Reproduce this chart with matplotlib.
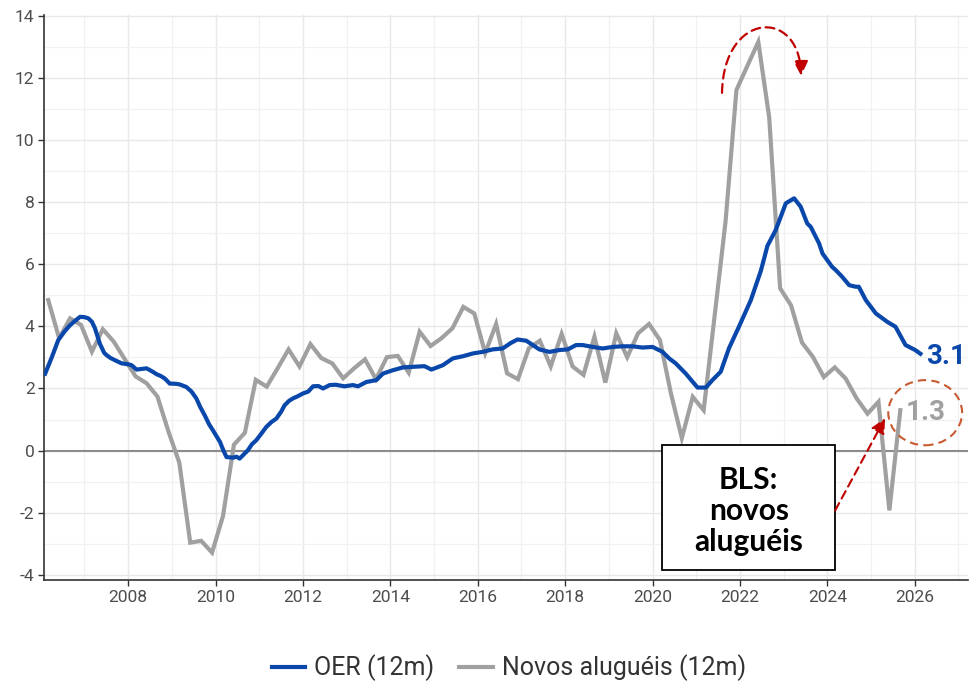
import numpy as np
import matplotlib
matplotlib.use("Agg")
import matplotlib.pyplot as plt
from matplotlib.patches import Ellipse, Rectangle, FancyArrowPatch
from matplotlib.path import Path
from matplotlib.ticker import MultipleLocator

# ---------------- data ----------------
oer_dates = [2006.10, 2006.25, 2006.40, 2006.55, 2006.67, 2006.80, 2006.90, 2007.00, 2007.09, 2007.17,
             2007.24, 2007.35, 2007.45, 2007.51, 2007.60, 2007.70, 2007.85, 2008.00, 2008.08, 2008.19,
             2008.30, 2008.42, 2008.55, 2008.65, 2008.75, 2008.84, 2008.95, 2009.10, 2009.18, 2009.33,
             2009.45, 2009.56, 2009.65, 2009.75, 2009.85, 2009.94, 2010.10, 2010.18, 2010.25, 2010.40,
             2010.48, 2010.55, 2010.65, 2010.74, 2010.83, 2010.93, 2011.05, 2011.16, 2011.28, 2011.39,
             2011.50, 2011.58, 2011.68, 2011.77, 2011.88, 2012.00, 2012.12, 2012.23, 2012.35, 2012.46,
             2012.61, 2012.75, 2012.95, 2013.14, 2013.26, 2013.45, 2013.68, 2013.83, 2014.06, 2014.29,
             2014.55, 2014.78, 2014.94, 2015.20, 2015.43, 2015.66, 2015.89, 2016.11, 2016.34, 2016.57,
             2016.76, 2016.91, 2017.11, 2017.26, 2017.41, 2017.64, 2017.87, 2018.06, 2018.25, 2018.40,
             2018.63, 2018.86, 2019.09, 2019.31, 2019.54, 2019.77, 2020.00, 2020.23, 2020.38, 2020.53,
             2020.76, 2020.95, 2021.03, 2021.22, 2021.37, 2021.56, 2021.75, 2021.98, 2022.25, 2022.48,
             2022.63, 2022.82, 2023.05, 2023.24, 2023.39, 2023.54, 2023.62, 2023.81, 2023.89, 2024.11,
             2024.19, 2024.34, 2024.50, 2024.65, 2024.72, 2024.88, 2025.11, 2025.37, 2025.56, 2025.79,
             2026.01, 2026.13]
oer_values = [2.48, 3.00, 3.56, 3.85, 4.04, 4.20, 4.31, 4.30, 4.26, 4.15,
              3.94, 3.45, 3.15, 3.07, 2.98, 2.91, 2.81, 2.78, 2.75, 2.61,
              2.63, 2.65, 2.55, 2.46, 2.40, 2.32, 2.16, 2.15, 2.13, 2.05,
              1.90, 1.68, 1.40, 1.14, 0.85, 0.65, 0.28, 0.00, -0.21, -0.23,
              -0.20, -0.26, -0.12, 0.01, 0.20, 0.33, 0.55, 0.76, 0.92, 1.03,
              1.25, 1.46, 1.60, 1.68, 1.75, 1.84, 1.90, 2.07, 2.08, 2.00,
              2.11, 2.12, 2.07, 2.11, 2.07, 2.21, 2.27, 2.48, 2.59, 2.68,
              2.70, 2.72, 2.61, 2.75, 2.97, 3.04, 3.13, 3.18, 3.26, 3.29,
              3.47, 3.58, 3.54, 3.40, 3.26, 3.18, 3.24, 3.26, 3.40, 3.40,
              3.34, 3.29, 3.34, 3.36, 3.36, 3.32, 3.34, 3.18, 2.97, 2.81,
              2.48, 2.16, 2.03, 2.03, 2.27, 2.54, 3.30, 4.00, 4.85, 5.80,
              6.60, 7.11, 7.97, 8.13, 7.86, 7.32, 7.21, 6.68, 6.35, 5.92,
              5.82, 5.60, 5.33, 5.28, 5.28, 4.85, 4.42, 4.15, 3.99, 3.40,
              3.24, 3.12]

# New tenant rents: quarterly, first quarter plotted at 2006.17
new_rent_start = 2006.17
new_rent_values = [4.85, 3.62, 4.26, 4.05, 3.19, 3.91, 3.51, 2.95,
                   2.39, 2.17, 1.74, 0.62, -0.39, -2.97, -2.91, -3.29,
                   -2.11, 0.19, 0.57, 2.28, 2.06, 2.65, 3.26, 2.71,
                   3.43, 2.98, 2.81, 2.33, 2.65, 2.94, 2.30, 3.01,
                   3.05, 2.51, 3.83, 3.37, 3.62, 3.94, 4.63, 4.42,
                   3.14, 4.08, 2.49, 2.30, 3.30, 3.54, 2.71, 3.76,
                   2.71, 2.44, 3.67, 2.19, 3.78, 3.01, 3.78, 4.08,
                   3.56, 1.85, 0.40, 1.73, 1.30, 4.33, 7.37, 11.62,
                   12.40, 13.17, 10.74, 5.23, 4.68, 3.48, 3.02, 2.37,
                   2.68, 2.32, 1.68, 1.19, 1.57, -1.93, 1.30]
new_rent_dates = new_rent_start + 0.25 * np.arange(len(new_rent_values))

series_labels = ["OER (12m)", "Novos aluguéis (12m)"]
x_ticks = [2008, 2010, 2012, 2014, 2016, 2018, 2020, 2022, 2024, 2026]
y_ticks = [-4, -2, 0, 2, 4, 6, 8, 10, 12, 14]
box_text = "BLS:\nnovos\naluguéis"

# ---------------- style ----------------
BLUE = "#0A47AA"
GRAY = "#A0A0A0"
RED = "#C00000"
ORANGE = "#C85A32"
TICK_COL = "#4D4D4D"

plt.rcParams["font.family"] = ["Roboto", "DejaVu Sans"]

fig = plt.figure(figsize=(9.69, 6.81), dpi=100)
ax = fig.add_axes([0.0457, 0.148, 0.9533, 0.8300])

ax.set_xlim(2006.08, 2027.22)
ax.set_ylim(-4.18, 14.04)

ax.xaxis.set_minor_locator(MultipleLocator(1))
ax.yaxis.set_minor_locator(MultipleLocator(1))
ax.set_xticks(x_ticks)
ax.set_yticks(y_ticks)
ax.set_xticklabels([str(t) for t in x_ticks])
ax.set_yticklabels([str(t) for t in y_ticks])

ax.grid(which="major", color="#E8E8E8", lw=1.0, zorder=0)
ax.grid(which="minor", color="#F1F1F1", lw=0.9, zorder=0)
ax.set_axisbelow(True)

for s in ["top", "right"]:
    ax.spines[s].set_visible(False)
for s in ["left", "bottom"]:
    ax.spines[s].set_color("#333333")
    ax.spines[s].set_linewidth(1.2)

ax.tick_params(which="major", length=4, width=1.0, color="#333333",
               labelcolor=TICK_COL, labelsize=12.5, pad=3)
ax.tick_params(which="minor", length=0)

ax.axhline(0, color="#8C8C8C", lw=1.5, zorder=1)

ax.plot(new_rent_dates, new_rent_values, color=GRAY, lw=3.0,
        solid_joinstyle="miter", zorder=2, label=series_labels[1])
ax.plot(oer_dates, oer_values, color=BLUE, lw=3.0, zorder=3,
        label=series_labels[0])

# end labels
ax.annotate(f"{oer_values[-1]:.1f}", xy=(oer_dates[-1], oer_values[-1]),
            xytext=(4, -2), textcoords="offset points", ha="left", va="center",
            color=BLUE, fontsize=20, fontweight="bold", zorder=5)
ax.annotate(f"{new_rent_values[-1]:.1f}", xy=(new_rent_dates[-1], new_rent_values[-1]),
            xytext=(4, -2), textcoords="offset points", ha="left", va="center",
            color=GRAY, fontsize=20, fontweight="bold", zorder=5)

# dashed ellipse around the last new-rent value
ax.add_patch(Ellipse((2026.24, 1.22), 1.69, 2.1, fill=False, ec=ORANGE,
                     lw=1.5, ls=(0, (4, 2.5)), zorder=5))

# text box
ax.add_patch(Rectangle((2020.22, -3.86), 3.96, 4.03, fc="white", ec="black",
                       lw=1.3, zorder=6))
ax.text(2022.20, -1.95, box_text, ha="center", va="center", fontsize=21.5,
        fontweight="bold", family=["Lato", "DejaVu Sans"], linespacing=1.12,
        color="black", zorder=7)

# straight dashed arrow from the box to the last value
ax.annotate("", xy=(2025.32, 1.04), xytext=(2024.18, -1.93),
            arrowprops=dict(arrowstyle="-|>", color=RED, lw=1.5, ls=(0, (4, 2.5)),
                            mutation_scale=22, shrinkA=0, shrinkB=0), zorder=7)

# curved dashed arrow over the peak
verts = [(2021.59, 11.53), (2021.62, 14.15), (2023.36, 14.3), (2023.40, 12.08)]
codes = [Path.MOVETO, Path.CURVE4, Path.CURVE4, Path.CURVE4]
arc = FancyArrowPatch(path=Path(verts, codes), arrowstyle="-|>", color=RED,
                      lw=1.6, ls=(0, (4, 2.5)), mutation_scale=22, zorder=7)
ax.add_patch(arc)

# legend
handles, labels = ax.get_legend_handles_labels()
order = [labels.index(series_labels[0]), labels.index(series_labels[1])]
fig.legend([handles[i] for i in order], [labels[i] for i in order],
           loc="center", bbox_to_anchor=(0.525, 0.019), ncol=2, frameon=False,
           fontsize=18, handlelength=1.35, handletextpad=0.35, columnspacing=1.0,
           labelcolor="#333333")

fig.savefig("out.png", dpi=100)
